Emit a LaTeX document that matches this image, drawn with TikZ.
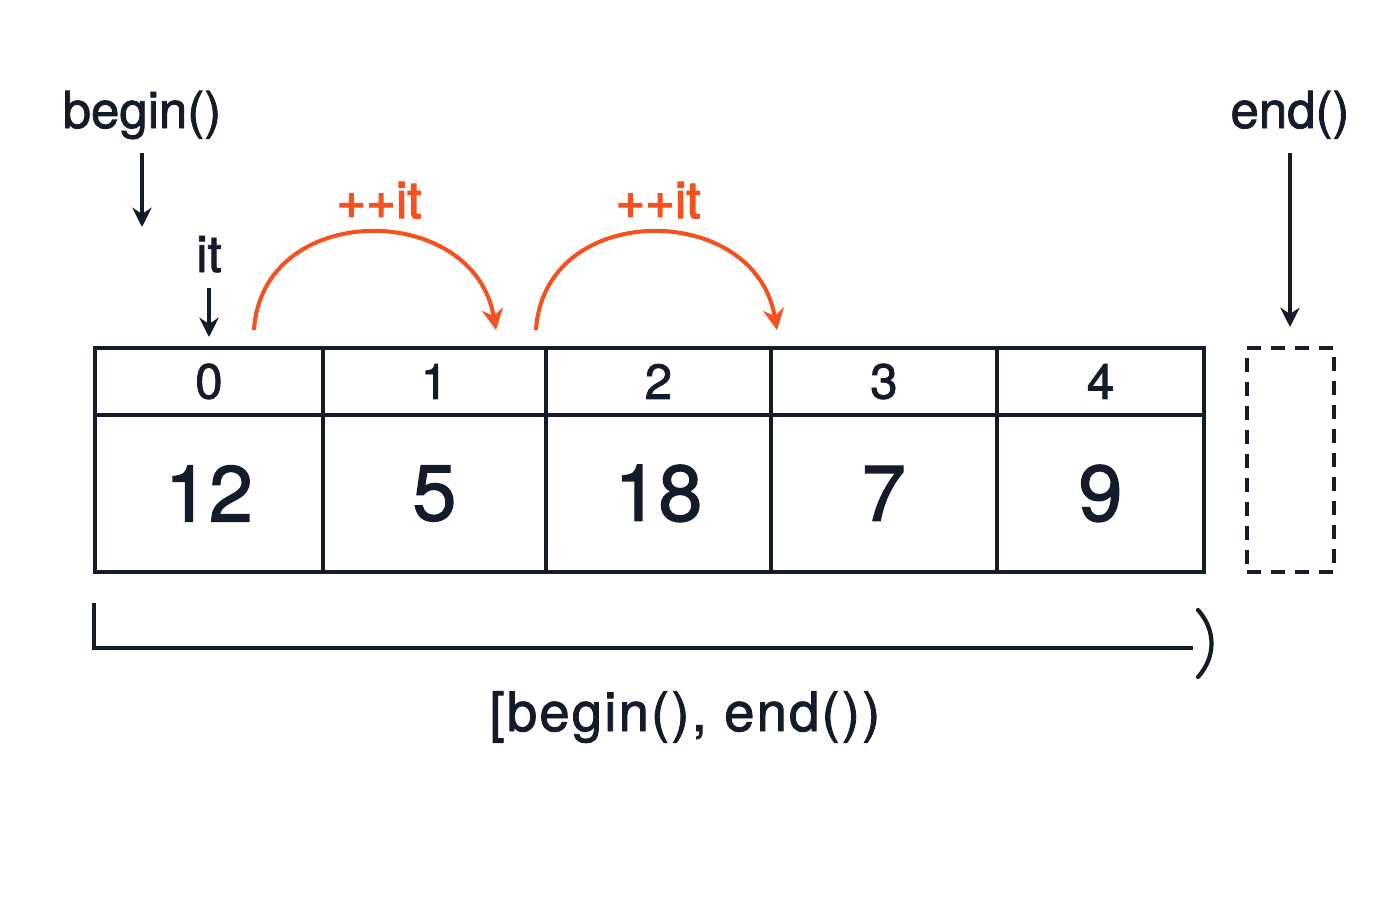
\documentclass[tikz,border=0pt]{standalone}
\usepackage{fontspec}
\setmainfont{TeX Gyre Heros}[FakeBold=1.6]
\newfontfamily\rangefont{TeX Gyre Heros}[FakeBold=1.6,LetterSpace=4]
\newfontfamily\jumpfont{TeX Gyre Heros}[FakeBold=2.6]
\usetikzlibrary{arrows.meta}
\definecolor{ink}{HTML}{141B2B}
\definecolor{incr}{HTML}{F4511E}

\begin{document}
\begin{tikzpicture}
[x=0.02cm,y=-0.02cm,%
  cellDecorate/.style={draw=ink,line width=2.2pt,inner sep=0pt,anchor=north west,text=ink},%
  lineDecorate/.style={draw=ink,line width=2pt,-{Stealth[length=11pt,width=11pt]}},%
  jumpDecorate/.style={draw=incr,line width=2.3pt,-{Stealth[length=12pt,width=12pt]}},%
  textDecorate/.style={text=ink,font=\fontsize{29}{31}\selectfont,anchor=base,inner sep=0pt},%
  jumpText/.style={text=incr,font=\jumpfont\fontsize{29}{31}\selectfont,anchor=base,inner sep=0pt}]
\useasboundingbox (0,0) rectangle (1400,900);
%% cells: index row and value row
\foreach \i/\xa/\xb/\val in {0/93/321/12, 1/321/544/5, 2/544/769/18, 3/769/995/7, 4/995/1202/9}
{
  \pgfmathsetmacro\w{(\xb-\xa)*0.02}
  \node (idx\i) at (\xa,346) [cellDecorate,minimum width=\w cm,minimum height=1.34cm,
    font=\fontsize{28}{30}\selectfont] {\i};
  \node (val\i) at (\xa,413) [cellDecorate,minimum width=\w cm,minimum height=3.14cm,
    font=\fontsize{45}{47}\selectfont] {\val};
}
%% past-the-end slot
\node (past) at (1245,346) [cellDecorate,dash pattern=on 0.28cm off 0.2cm,
  minimum width=1.74cm,minimum height=4.48cm] {};
%% labels
\node (begin) at (142,128) [textDecorate] {begin()};
\node (end) at (1290,128) [textDecorate] {end()};
\node (it) at (209,272) [textDecorate] {it};
\node (incA) at (379,218) [jumpText] {++it};
\node (incB) at (658,218) [jumpText] {++it};
\node (range) at (685,731) [textDecorate,font=\rangefont\fontsize{31}{33}\selectfont] {[begin(), end())};
\coordinate (beginTip) at (142,227);
\coordinate (itTip) at (209,337);
\coordinate (jumpA0) at (254,330);
\coordinate (jumpA1) at (496,330);
\coordinate (jumpB0) at (536,330);
\coordinate (jumpB1) at (777,330);
\coordinate (rangeA) at (94,603);
\coordinate (rangeB) at (94,648);
\coordinate (rangeC) at (1193,648);
\coordinate (parenA) at (1198,610);
\coordinate (parenB) at (1198,677);
%% arrows
\draw[lineDecorate,shorten <=0.28cm] (begin.south) -- (beginTip);
\draw[lineDecorate,shorten <=0.3cm] (it.south) -- (itTip);
\draw[lineDecorate,shorten <=0.28cm,shorten >=0.38cm] (end.south) -- (end.south |- past.north);
\draw[jumpDecorate] (jumpA0) .. controls +(8,-130) and +(-22,-130) .. (jumpA1);
\draw[jumpDecorate] (jumpB0) .. controls +(8,-130) and +(-22,-130) .. (jumpB1);
%% half-open range
\draw[ink,line width=2.2pt] (rangeA) -- (rangeB) -- (rangeC);
\draw[ink,line width=2.4pt,line cap=round] (parenA) .. controls +(18,20) and +(18,-20) .. (parenB);
\end{tikzpicture}
\end{document}
